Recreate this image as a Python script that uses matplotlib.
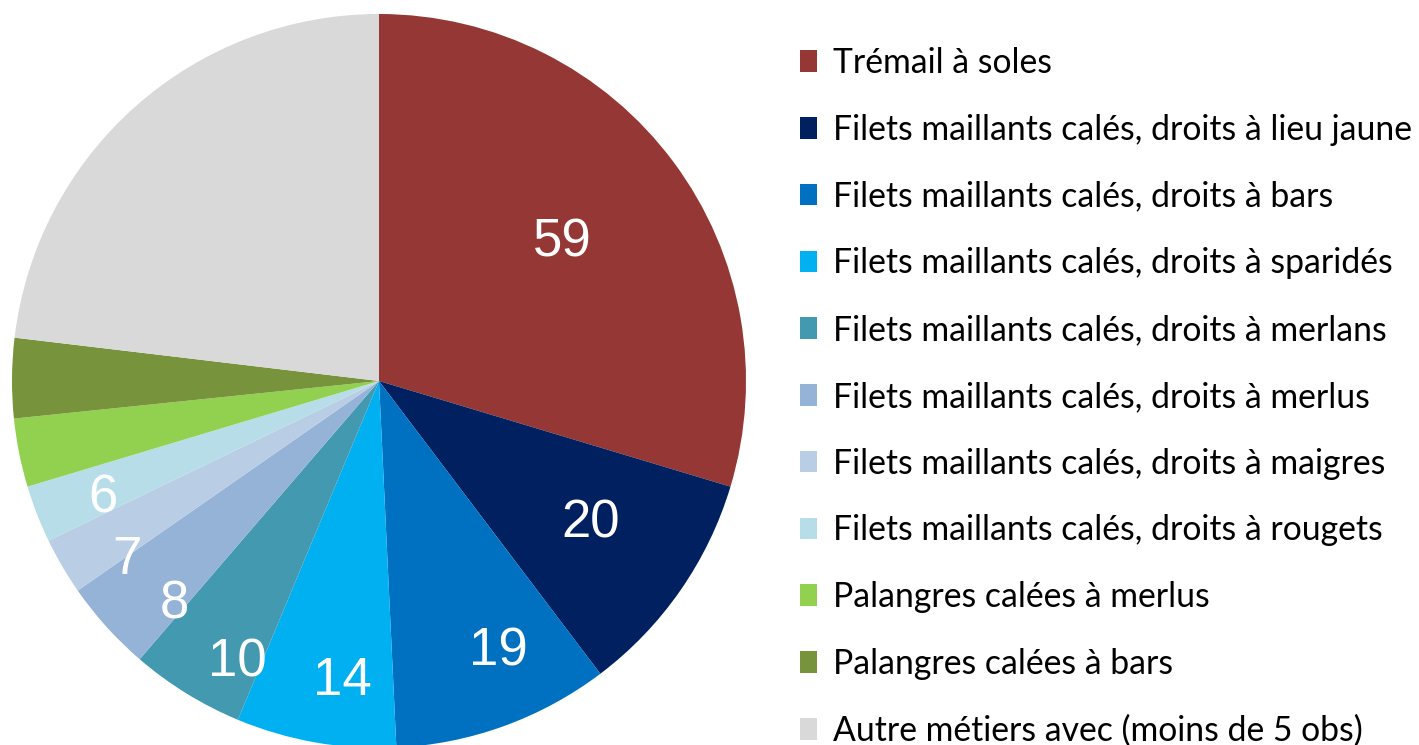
import numpy as np
import matplotlib.pyplot as plt

# categories (legend order = slice order, clockwise from 12 o'clock)
categories = [
    "Trémail à soles",
    "Filets maillants calés, droits à lieu jaune",
    "Filets maillants calés, droits à bars",
    "Filets maillants calés, droits à sparidés",
    "Filets maillants calés, droits à merlans",
    "Filets maillants calés, droits à merlus",
    "Filets maillants calés, droits à maigres",
    "Filets maillants calés, droits à rougets",
    "Palangres calées à merlus",
    "Palangres calées à bars",
    "Autre métiers avec (moins de 5 obs)",
]
# slice sizes
values = [59, 20, 19, 14, 10, 8, 5, 5, 6, 7, 46]
# data labels as printed on the chart
shown_labels = ["59", "20", "19", "14", "10", "8", "7", "6", "", "", ""]

colors = ["#953735", "#002060", "#0070C0", "#00B0F0", "#4399B0", "#95B3D7",
          "#B9CDE5", "#B7DEE8", "#92D050", "#77933C", "#D9D9D9"]

# label placement: fraction of radius, nudge in degrees (positive = clockwise)
label_r = [0.635, 0.688, 0.792, 0.81, 0.846, 0.814, 0.832, 0.812, 0, 0, 0]
label_dt = [-1.4, -1.95, -4.3, -2.8, -4.56, -4.77, -4.22, -0.8, 0, 0, 0]

W, H = 1419, 745
fig = plt.figure(figsize=(W / 100, H / 100), dpi=100)
cx, cy, R = 379, 381, 367
ax = fig.add_axes([(cx - R) / W, (H - cy - R) / H, 2 * R / W, 2 * R / H])

wedges, _ = ax.pie(values, colors=colors, startangle=90, counterclock=False,
                   radius=1, wedgeprops=dict(linewidth=0))
ax.set_xlim(-1, 1)
ax.set_ylim(-1, 1)
ax.set_aspect("equal")
ax.axis("off")

for w, lab, r, dt in zip(wedges, shown_labels, label_r, label_dt):
    if not lab:
        continue
    th = np.deg2rad((w.theta1 + w.theta2) / 2 - dt)
    ax.text(r * np.cos(th), r * np.sin(th), lab, color="white", fontsize=38,
            family="Liberation Sans", ha="center", va="center_baseline")

leg = fig.legend(wedges, categories, loc="upper left",
                 bbox_to_anchor=(800 / W, 1 - 47 / H), frameon=False,
                 prop={"family": "Lato", "size": 24.3},
                 handlelength=0.5, handleheight=0.6, handletextpad=0.47,
                 labelspacing=1.03, borderpad=0, borderaxespad=0)

fig.savefig("out.png", dpi=100)
